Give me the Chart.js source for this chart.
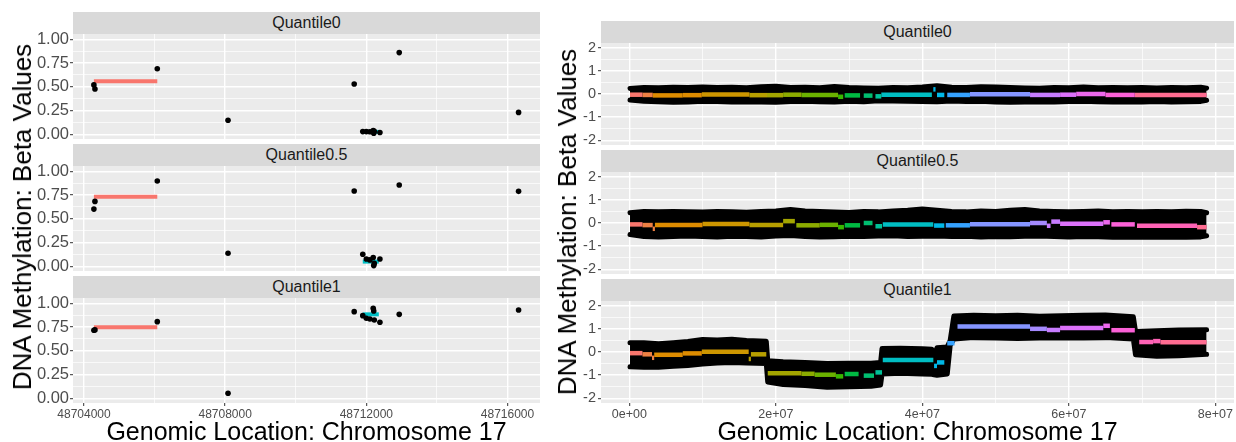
<!DOCTYPE html>
<html><head><meta charset="utf-8">
<script src="https://cdn.jsdelivr.net/npm/chart.js@4/dist/chart.umd.min.js"></script>
<style>
html,body{margin:0;padding:0;background:#fff;overflow:hidden;}
#root{position:relative;width:1236px;height:442px;overflow:hidden;font-family:"Liberation Sans",Arial,sans-serif;}
canvas{position:absolute;}
.strip{position:absolute;background:#D9D9D9;color:#1A1A1A;font-size:16px;text-align:center;height:22px;line-height:22px;}
.xtitle{position:absolute;width:600px;font-size:25px;line-height:25px;color:#000;text-align:center;white-space:nowrap;}
.ytitle{position:absolute;font-size:26px;line-height:26px;color:#000;white-space:nowrap;transform:translate(-50%,-50%) rotate(-90deg);}
</style></head>
<body><div id="root"></div>
<script>
// ---------- text / ticks ----------
const facetLabels = ['Quantile0', 'Quantile0.5', 'Quantile1'];
const xTitle = 'Genomic Location: Chromosome 17';
const yTitle = 'DNA Methylation: Beta Values';

const leftXMajor = [48704000, 48708000, 48712000, 48716000];
const leftXLabels = ['48704000', '48708000', '48712000', '48716000'];
const leftXMinor = [48706000, 48710000, 48714000];
const leftYMajor = [0, 0.25, 0.5, 0.75, 1];
const leftYLabels = ['0.00', '0.25', '0.50', '0.75', '1.00'];
const leftYMinor = [0.125, 0.375, 0.625, 0.875];

const rightXMajor = [0, 20, 40, 60, 80];           // Mb
const rightXLabels = ['0e+00', '2e+07', '4e+07', '6e+07', '8e+07'];
const rightXMinor = [10, 30, 50, 70];
const rightYMajor = [-2, -1, 0, 1, 2];
const rightYLabels = ['-2', '-1', '0', '1', '2'];
const rightYMinor = [-1.5, -0.5, 0.5, 1.5];

// ---------- left figure: CpG beta values ----------
const cpgPos = [48704280, 48704310, 48706076, 48708081, 48711656, 48711899, 48712000,
                48712101, 48712195, 48712210, 48712225, 48712385, 48712932, 48716314];
const betaQ0   = [0.52, 0.477, 0.69, 0.148, 0.53, 0.028, 0.028, 0.026, 0.039, 0.01, 0.03, 0.018, 0.86, 0.23];
const betaQ05  = [0.602, 0.683, 0.898, 0.137, 0.792, 0.127, 0.077, 0.067, 0.092, 0.007, 0.03, 0.077, 0.856, 0.789];
const betaQ1   = [0.716, 0.72, 0.807, 0.053, 0.912, 0.87, 0.842, 0.835, 0.947, 0.919, 0.825, 0.80, 0.884, 0.93];
const leftSegStart = [48704280, 48711899];
const leftSegEnd   = [48706076, 48712354];
const leftSegQ0  = [0.558, 0.025];
const leftSegQ05 = [0.732, 0.049];
const leftSegQ1  = [0.747, 0.884];
const leftSegColors = ['#F8766D', '#00BFC4'];

// ---------- right figure: whole chromosome (Mb) ----------
// black point cloud envelope (centres of outermost points)
const bandPos = [0.1, 2, 4, 6, 8, 10, 12, 14, 16, 18, 20, 22, 24, 26, 28, 30, 32, 34, 36, 38, 40,
                 42, 44, 46, 48, 50, 52, 54, 56, 58, 60, 62, 64, 66, 68, 70, 72, 74, 76, 78, 78.8];
const bandQ0Upper = [0.24, 0.28, 0.27, 0.29, 0.28, 0.30, 0.28, 0.29, 0.27, 0.31, 0.33, 0.28, 0.29, 0.27, 0.32, 0.28, 0.26, 0.25, 0.28, 0.27, 0.30,
                     0.36, 0.29, 0.28, 0.31, 0.30, 0.28, 0.26, 0.25, 0.28, 0.27, 0.30, 0.27, 0.28, 0.27, 0.28, 0.26, 0.28, 0.27, 0.29, 0.25];
const bandQ0Lower = [-0.26, -0.31, -0.33, -0.36, -0.34, -0.31, -0.32, -0.35, -0.33, -0.35, -0.36, -0.32, -0.31, -0.33, -0.35, -0.31, -0.33, -0.29, -0.30, -0.31, -0.32,
                     -0.33, -0.30, -0.32, -0.31, -0.34, -0.36, -0.35, -0.33, -0.34, -0.32, -0.31, -0.33, -0.35, -0.33, -0.34, -0.32, -0.34, -0.33, -0.32, -0.27];
const bandQ05Upper = [0.44, 0.50, 0.48, 0.50, 0.49, 0.47, 0.50, 0.48, 0.46, 0.50, 0.52, 0.58, 0.52, 0.50, 0.47, 0.45, 0.50, 0.48, 0.52, 0.55, 0.60,
                      0.55, 0.50, 0.48, 0.52, 0.50, 0.55, 0.58, 0.52, 0.50, 0.48, 0.50, 0.52, 0.49, 0.50, 0.48, 0.50, 0.49, 0.51, 0.50, 0.44];
const bandQ05Lower = [-0.50, -0.58, -0.60, -0.58, -0.56, -0.58, -0.60, -0.57, -0.58, -0.60, -0.56, -0.54, -0.58, -0.60, -0.59, -0.57, -0.58, -0.56, -0.55, -0.58, -0.57,
                      -0.56, -0.58, -0.57, -0.60, -0.58, -0.59, -0.57, -0.56, -0.58, -0.60, -0.58, -0.59, -0.61, -0.60, -0.62, -0.60, -0.61, -0.62, -0.60, -0.55];
const bandQ1Pos   = [0.1, 2, 4, 6, 8, 10, 12, 14, 16, 18.7, 18.9, 21, 24, 27, 30, 33, 34.3, 34.5, 37, 40, 41.3, 41.6, 42, 43.4, 43.8, 44.3,
                     47, 50, 53, 56, 59, 62, 65, 68.8, 69.1, 72, 75, 78.8];
const bandQ1Upper = [0.40, 0.40, 0.36, 0.40, 0.45, 0.54, 0.52, 0.55, 0.50, 0.46, -0.38, -0.42, -0.45, -0.50, -0.48, -0.48, -0.45, 0.15, 0.16, 0.14, 0.12, -0.18, 0.18, 0.22, 0.50, 1.55,
                     1.58, 1.56, 1.58, 1.54, 1.56, 1.58, 1.60, 1.52, 0.88, 0.92, 0.95, 0.96];
const bandQ1Lower = [-0.64, -0.66, -0.66, -0.62, -0.58, -0.52, -0.48, -0.45, -0.47, -0.50, -1.30, -1.40, -1.45, -1.52, -1.50, -1.48, -1.42, -0.95, -0.92, -0.95, -0.96, -0.98, -1.00, -0.95, 0.28, 0.56,
                     0.62, 0.60, 0.58, 0.60, 0.62, 0.60, 0.62, 0.56, -0.12, -0.18, -0.16, -0.10];

// segment means (start Mb, end Mb, value, colour group)
const segQ0Start = [0.1, 1.8, 3.2, 7.3, 9.9, 16.4, 18.8, 21.0, 23.5, 28.5, 29.4, 32.0, 33.6, 34.4, 41.5, 42.0, 43.4, 46.5, 54.7, 58.8, 61.0, 65.0, 69.0];
const segQ0End   = [1.8, 3.2, 7.3, 9.9, 16.4, 18.8, 21.0, 23.5, 28.5, 29.2, 31.5, 33.2, 34.4, 41.3, 41.8, 43.0, 46.5, 54.7, 58.8, 61.0, 65.0, 69.0, 78.8];
const segQ0Value = [-0.03, -0.04, -0.06, -0.05, -0.02, -0.05, -0.05, -0.03, -0.04, -0.12, -0.06, -0.07, -0.10, -0.03, 0.20, -0.04, -0.04, -0.01, -0.04, -0.03, 0.00, -0.04, -0.04];
const segQ0Group = [0, 1, 2, 2, 3, 4, 5, 6, 7, 8, 9, 10, 11, 12, 13, 13, 14, 15, 17, 18, 19, 20, 22];

const segQ05Start = [0.1, 1.8, 3.2, 3.5, 10.0, 16.4, 21.0, 22.8, 26.0, 28.5, 29.4, 32.0, 33.6, 34.6, 41.6, 43.2, 46.5, 54.7, 57.0, 57.6, 58.8, 64.7, 65.8, 69.3, 77.5];
const segQ05End   = [1.8, 3.2, 3.5, 10.0, 16.4, 21.0, 22.6, 26.0, 28.5, 29.3, 31.5, 33.2, 34.5, 41.5, 43.0, 46.5, 54.7, 57.0, 57.5, 58.8, 64.7, 65.6, 69.0, 77.5, 78.8];
const segQ05Value = [-0.06, -0.09, -0.25, -0.09, -0.04, -0.09, 0.08, -0.10, -0.08, -0.18, -0.10, 0.00, -0.14, -0.07, -0.11, -0.10, -0.05, 0.00, -0.12, 0.06, -0.03, 0.03, -0.06, -0.12, -0.18];
const segQ05Group = [0, 1, 1, 2, 3, 4, 5, 6, 7, 8, 9, 10, 11, 12, 13, 14, 15, 16, 17, 17, 18, 19, 20, 21, 22];

const segQ1Start = [0.1, 1.8, 3.1, 3.4, 7.3, 9.9, 16.3, 16.6, 18.9, 23.5, 25.3, 28.2, 29.4, 32.0, 33.6, 34.6, 41.6, 42.0, 43.4, 44.8, 54.7, 57.0, 58.8, 64.7, 65.8, 69.6, 71.5, 72.5];
const segQ1End   = [1.8, 3.1, 3.4, 7.3, 9.9, 16.3, 16.6, 18.7, 23.5, 25.3, 28.2, 29.2, 31.3, 33.4, 34.5, 41.5, 42.0, 43.0, 44.4, 54.7, 57.0, 58.8, 64.7, 65.6, 69.0, 71.5, 72.5, 78.8];
const segQ1Value = [-0.05, -0.10, -0.25, -0.12, -0.06, 0.01, -0.30, -0.10, -0.92, -0.94, -0.98, -1.05, -0.95, -1.02, -0.88, -0.35, -0.60, -0.45, 0.38, 1.10, 1.00, 0.95, 1.03, 1.13, 0.94, 0.43, 0.47, 0.42];
const segQ1Group = [0, 1, 1, 2, 2, 3, 4, 4, 5, 6, 7, 8, 9, 10, 11, 12, 13, 13, 14, 15, 16, 17, 18, 19, 20, 21, 21, 22];

const groupColors = ['#F8766D', '#EE8043', '#DE8C00', '#CD9600', '#B79F00', '#A3A500', '#8CAB00', '#6BB100', '#39B600',
                     '#00BA42', '#00BE70', '#00C097', '#00BDC2', '#00B8E7', '#35A2FF', '#8494FF', '#A58AFF', '#C77CFF',
                     '#DC71FA', '#ED68ED', '#FB61D7', '#FF63B6', '#FF6C91'];

// ---------- drawing ----------
const FONT = '"Liberation Sans", Arial, sans-serif';
const root = document.getElementById('root');
const panelBg = {
  id: 'panelBg',
  beforeDraw(chart) {
    const { ctx, chartArea: a } = chart;
    ctx.save(); ctx.fillStyle = '#EBEBEB';
    ctx.fillRect(a.left, a.top, a.right - a.left, a.bottom - a.top);
    ctx.restore();
  }
};

function axisCfg(o) {
  const all = [...o.major, ...o.minor].sort((a, b) => a - b);
  const isMaj = t => t && o.major.indexOf(t.value) >= 0;
  return {
    type: 'linear', min: o.min, max: o.max,
    border: { display: false },
    afterBuildTicks: s => { s.ticks = all.map(v => ({ value: v })); },
    afterFit: s => { if (o.horizontal) s.height = o.size; else s.width = o.size; },
    grid: {
      color: '#FFFFFF',
      lineWidth: c => isMaj(c.tick) ? 1.4 : 0.7,
      drawTicks: o.showTicks, tickLength: 3, tickWidth: 1,
      tickColor: c => isMaj(c.tick) ? '#333333' : 'rgba(0,0,0,0)'
    },
    ticks: {
      display: o.showTicks, autoSkip: false, maxRotation: 0, minRotation: 0,
      padding: o.pad, color: '#4D4D4D', font: { family: FONT, size: o.font },
      callback: v => { const i = o.major.indexOf(v); return i >= 0 ? o.labels[i] : ''; }
    }
  };
}

function panel(o) {
  const PAD = 14;
  const xH = o.bottom ? 24 : 0;
  const W = o.yW + o.panelW + PAD, H = PAD + o.panelH + xH + PAD;
  const cv = document.createElement('canvas');
  cv.width = W; cv.height = H;
  cv.style.left = (o.panelLeft - o.yW) + 'px';
  cv.style.top = (o.panelTop - PAD) + 'px';
  cv.style.width = W + 'px'; cv.style.height = H + 'px';
  root.appendChild(cv);
  new Chart(cv, {
    type: 'line',
    data: { datasets: o.datasets },
    options: {
      responsive: false, animation: false, devicePixelRatio: 1, events: [],
      layout: { padding: { left: 0, top: PAD, right: PAD, bottom: PAD } },
      plugins: { legend: { display: false }, tooltip: { enabled: false } },
      scales: {
        x: axisCfg({ horizontal: true, size: xH, showTicks: o.bottom, min: o.xMin, max: o.xMax,
                     major: o.xMajor, minor: o.xMinor, labels: o.xLabels, font: o.xFont, pad: 1 }),
        y: axisCfg({ horizontal: false, size: o.yW, showTicks: true, min: o.yMin, max: o.yMax,
                     major: o.yMajor, minor: o.yMinor, labels: o.yLabels, font: o.yFont, pad: o.yPad })
      }
    },
    plugins: [panelBg]
  });
}

function segDatasets(starts, ends, values, colorOf, width, order) {
  return starts.map((s, i) => ({
    type: 'line', data: [{ x: s, y: values[i] }, { x: ends[i], y: values[i] }],
    borderColor: colorOf(i), borderWidth: width, borderCapStyle: 'butt',
    pointRadius: 0, fill: false, order: order
  }));
}

// left column
const leftVals = [betaQ0, betaQ05, betaQ1];
const leftSegVals = [leftSegQ0, leftSegQ05, leftSegQ1];
const leftTops = [34, 166, 298];
leftTops.forEach((top, k) => {
  const ds = [{
    type: 'line', showLine: false, data: cpgPos.map((x, i) => ({ x: x, y: leftVals[k][i] })),
    pointRadius: 2.8, pointBackgroundColor: '#000', pointBorderWidth: 0, order: 0
  }].concat(segDatasets(leftSegStart, leftSegEnd, leftSegVals[k], i => leftSegColors[i], 4, 1));
  panel({
    panelLeft: 73, panelTop: top, panelW: 467, panelH: 105, yW: 73, bottom: k === 2,
    xMin: 48703688, xMax: 48716921, yMin: -0.05, yMax: 1.056,
    xMajor: leftXMajor, xMinor: leftXMinor, xLabels: leftXLabels, xFont: 12,
    yMajor: leftYMajor, yMinor: leftYMinor, yLabels: leftYLabels, yFont: 16.5, yPad: 1,
    datasets: ds
  });
});

// right column
const bands = [
  [bandPos, bandQ0Upper, bandQ0Lower],
  [bandPos, bandQ05Upper, bandQ05Lower],
  [bandQ1Pos, bandQ1Upper, bandQ1Lower]
];
const segs = [
  [segQ0Start, segQ0End, segQ0Value, segQ0Group],
  [segQ05Start, segQ05End, segQ05Value, segQ05Group],
  [segQ1Start, segQ1End, segQ1Value, segQ1Group]
];
const rightTops = [43, 172, 301];
rightTops.forEach((top, k) => {
  const [pos, up, lo] = bands[k];
  const bandStyle = { type: 'line', borderColor: '#000', backgroundColor: '#000', borderWidth: 5,
                      borderJoinStyle: 'round', borderCapStyle: 'round', pointRadius: 0, tension: 0, order: 5 };
  const ds = [
    Object.assign({}, bandStyle, { data: pos.map((x, i) => ({ x: x, y: up[i] })), fill: '+1' }),
    Object.assign({}, bandStyle, { data: pos.map((x, i) => ({ x: x, y: lo[i] })), fill: false })
  ];
  const [s, e, v, g] = segs[k];
  const all = ds.concat(segDatasets(s, e, v, i => groupColors[g[i]], 4.5, 0));
  panel({
    panelLeft: 601, panelTop: top, panelW: 633, panelH: 102, yW: 40, bottom: k === 2,
    xMin: -3.86, xMax: 82.54, yMin: -2.2, yMax: 2.2,
    xMajor: rightXMajor, xMinor: rightXMinor, xLabels: rightXLabels, xFont: 12.5,
    yMajor: rightYMajor, yMinor: rightYMinor, yLabels: rightYLabels, yFont: 14.5, yPad: 2,
    datasets: all
  });
});

// strips and titles
function addDiv(cls, text, css) {
  const d = document.createElement('div');
  d.className = cls; d.textContent = text;
  Object.assign(d.style, css);
  root.appendChild(d);
}
[12, 144, 276].forEach((t, k) => addDiv('strip', facetLabels[k], { left: '73px', top: t + 'px', width: '467px' }));
[21, 150, 279].forEach((t, k) => addDiv('strip', facetLabels[k], { left: '601px', top: t + 'px', width: '633px' }));
addDiv('xtitle', xTitle, { left: (306.5 - 300) + 'px', top: '418.8px' });
addDiv('xtitle', xTitle, { left: (917.5 - 300) + 'px', top: '418.8px' });
addDiv('ytitle', yTitle, { left: '22px', top: '217px' });
addDiv('ytitle', yTitle, { left: '567px', top: '222px' });
</script>
</body></html>
